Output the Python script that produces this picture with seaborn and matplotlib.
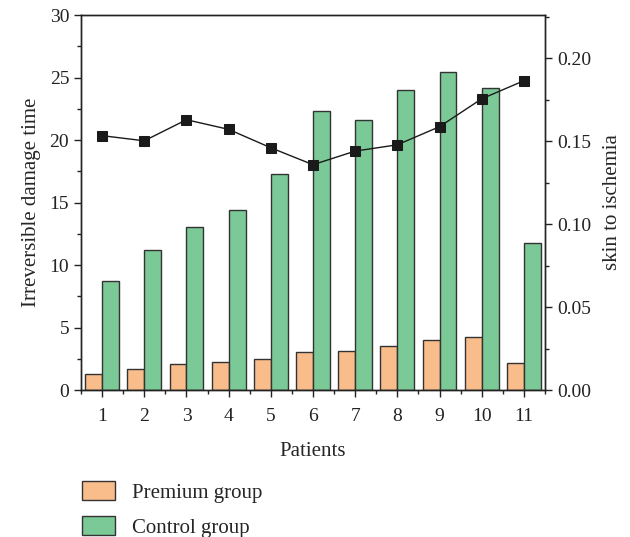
import pandas as pd
import numpy as np
import seaborn as sns
import matplotlib.pyplot as plt
from matplotlib.patches import Patch
from matplotlib.ticker import MultipleLocator

## data
patients = [1, 2, 3, 4, 5, 6, 7, 8, 9, 10, 11]
premium = [1.31, 1.66, 2.09, 2.25, 2.49, 3.02, 3.10, 3.53, 4.01, 4.22, 2.19]
control = [8.69, 11.20, 13.02, 14.39, 17.25, 22.30, 21.63, 23.98, 25.48, 24.17, 11.79]
ischemia = [0.1533, 0.1502, 0.1629, 0.1571, 0.1460, 0.1358, 0.1440, 0.1478, 0.1587, 0.1755, 0.1864]
groups = ["Premium group", "Control group"]
colors = ["#F9BC8B", "#7BC996"]

df = pd.DataFrame({
    "Patients": patients * 2,
    "time": premium + control,
    "Group": [groups[0]] * len(patients) + [groups[1]] * len(patients),
})

sns.set_style("ticks")
plt.rcParams["font.family"] = ["Liberation Serif", "DejaVu Serif"]
plt.rcParams["font.size"] = 14

fig, ax = plt.subplots(figsize=(6.3, 5.37), dpi=100)
fig.subplots_adjust(left=0.1286, right=0.865, top=0.972, bottom=0.2737)

sns.barplot(data=df, x="Patients", y="time", hue="Group", native_scale=True,
            width=0.8, palette=colors, saturation=1, edgecolor="#333333",
            linewidth=1, errorbar=None, legend=False, ax=ax)
ax.set_xlim(0.5, 11.5)
ax.set_ylim(0, 30)
ax.set_xticks(patients)
ax.xaxis.set_minor_locator(MultipleLocator(0.5))
ax.yaxis.set_minor_locator(MultipleLocator(2.5))
ax.set_xlabel("Patients", fontsize=15, labelpad=12)
ax.set_ylabel("Irreversible damage time", fontsize=15, labelpad=6)

## right axis line
ax2 = ax.twinx()
sns.lineplot(x=patients, y=ischemia, marker="s", color="#1a1a1a", markersize=7,
             markeredgecolor="#1a1a1a", linewidth=1, ax=ax2)
ax2.set_ylim(0, 0.226)
ax2.set_yticks([0, 0.05, 0.10, 0.15, 0.20])
ax2.set_yticklabels(["0.00", "0.05", "0.10", "0.15", "0.20"])
ax2.yaxis.set_minor_locator(MultipleLocator(0.025))
ax2.set_ylabel("skin to ischemia", fontsize=15, labelpad=9)

for a in (ax, ax2):
    a.tick_params(which="major", length=5, width=1, direction="out", colors="#222222",
                  labelsize=14)
    a.tick_params(which="minor", length=3, width=1, direction="out", colors="#222222")
    for s in a.spines.values():
        s.set_visible(True)
        s.set_color("#222222")
        s.set_linewidth(1)
ax.tick_params(axis="x", pad=8)

handles = [Patch(facecolor=c, edgecolor="#333333", label=g) for c, g in zip(colors, groups)]
fig.legend(handles=handles, loc="upper left", bbox_to_anchor=(0.130, 0.104),
           frameon=False, borderpad=0, borderaxespad=0, handlelength=1.6,
           handleheight=1.0, labelspacing=0.65, handletextpad=0.8, fontsize=15)

plt.savefig("out.png")
